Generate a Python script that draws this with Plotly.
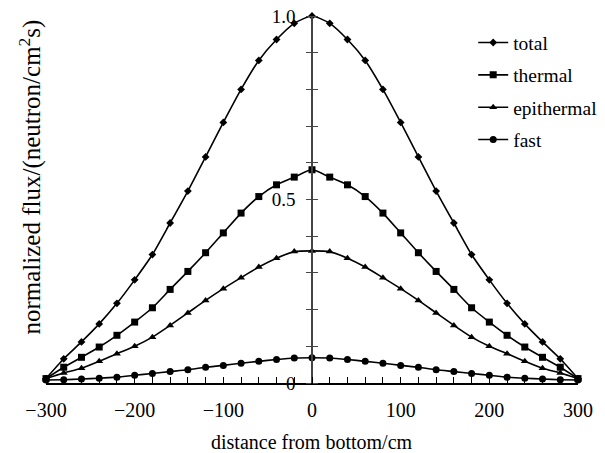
import plotly.graph_objects as go

distance = list(range(-300, 301, 20))

total = [0.012, 0.066, 0.112, 0.161, 0.217, 0.281, 0.350, 0.436, 0.523, 0.616, 0.710,
         0.800, 0.879, 0.936, 0.980, 1.000, 0.980, 0.936, 0.879, 0.800, 0.710, 0.616,
         0.523, 0.436, 0.350, 0.281, 0.217, 0.161, 0.112, 0.066, 0.012]
thermal = [0.012, 0.043, 0.070, 0.098, 0.130, 0.166, 0.205, 0.255, 0.304, 0.355, 0.409,
           0.463, 0.508, 0.540, 0.561, 0.581, 0.561, 0.540, 0.508, 0.463, 0.409, 0.355,
           0.304, 0.255, 0.205, 0.166, 0.130, 0.098, 0.070, 0.043, 0.012]
epithermal = [0.012, 0.027, 0.040, 0.059, 0.080, 0.100, 0.125, 0.157, 0.191, 0.225, 0.257,
              0.287, 0.316, 0.340, 0.358, 0.360, 0.358, 0.340, 0.316, 0.287, 0.257, 0.225,
              0.191, 0.157, 0.125, 0.100, 0.080, 0.059, 0.040, 0.027, 0.012]
fast = [0.008, 0.009, 0.011, 0.013, 0.016, 0.021, 0.026, 0.031, 0.036, 0.043, 0.048,
        0.054, 0.059, 0.064, 0.068, 0.069, 0.068, 0.064, 0.059, 0.054, 0.048, 0.043,
        0.036, 0.031, 0.026, 0.021, 0.016, 0.013, 0.011, 0.009, 0.008]

series_names = ["total", "thermal", "epithermal", "fast"]
x_tick_vals = list(range(-300, 301, 20))
x_tick_text = [str(v).replace("-", "\u2212") if v % 100 == 0 else "" for v in x_tick_vals]
y_tick_vals = [round(i * 0.1, 1) for i in range(11)]
y_tick_text = ["0" if v == 0 else ("0.5" if v == 0.5 else ("1.0" if v == 1.0 else "")) for v in y_tick_vals]

FONT = "Liberation Serif"
symbols = ["diamond", "square", "triangle-up", "circle"]
sizes = [6, 7, 7, 7]

fig = go.Figure()
for name, ys, sym, sz in zip(series_names, [total, thermal, epithermal, fast], symbols, sizes):
    fig.add_trace(go.Scatter(
        x=distance, y=ys, name=name, mode="lines+markers", legendgroup=name,
        line=dict(color="black", width=1.6, shape="spline", smoothing=0.6),
        marker=dict(symbol=sym, size=sz, color="black"),
        cliponaxis=False,
    ))

fig.update_layout(
    width=605, height=453,
    margin=dict(l=46, r=27, t=16, b=70, autoexpand=False),
    paper_bgcolor="white", plot_bgcolor="white",
    font=dict(family=FONT, size=20, color="black"),
    showlegend=True,
    legend=dict(x=0.803, y=0.98, xanchor="left", yanchor="top",
                bgcolor="rgba(0,0,0,0)", font=dict(size=19.5, family=FONT),
                itemwidth=30, tracegroupgap=4, traceorder="grouped",
                borderwidth=0),
    xaxis=dict(range=[-300, 300], showgrid=False, zeroline=False, automargin=False,
               showline=True, linecolor="black", linewidth=1.5,
               ticks="inside", ticklen=6, tickwidth=1, tickcolor="black",
               tickvals=x_tick_vals, ticktext=x_tick_text,
               tickfont=dict(size=20, family=FONT), ticklabelstandoff=8),
    yaxis=dict(range=[0, 1.0], showgrid=False, zeroline=False, automargin=False,
               anchor="free", position=0.5,
               showline=True, linecolor="#444", linewidth=1.5,
               ticks="outside", ticklen=5, tickwidth=1, tickcolor="#444",
               tickvals=y_tick_vals, ticktext=y_tick_text,
               tickfont=dict(size=19, family=FONT), ticklabelstandoff=7),
    yaxis2=dict(range=[0, 1.0], overlaying="y", anchor="free", position=0.5,
                side="right", showgrid=False, zeroline=False, showline=False,
                automargin=False,
                ticks="outside", ticklen=5, tickwidth=1, tickcolor="#444",
                tickvals=y_tick_vals, showticklabels=False),
    annotations=[
        dict(text="normalized flux/(neutron/cm<sup>2</sup>s)", xref="paper", yref="paper",
             x=-0.030, y=0.56, xanchor="center", yanchor="middle",
             textangle=-90, showarrow=False,
             font=dict(size=25, family=FONT)),
        dict(text="distance from bottom/cm", xref="paper", yref="paper",
             x=0.5, y=-0.16, xanchor="center", yanchor="middle", showarrow=False,
             font=dict(size=20, family=FONT)),
    ],
)
# invisible trace to activate yaxis2
fig.add_trace(go.Scatter(x=[0], y=[0], yaxis="y2", showlegend=False,
                         mode="markers", marker=dict(opacity=0), hoverinfo="skip"))

fig.write_html("out.html")
